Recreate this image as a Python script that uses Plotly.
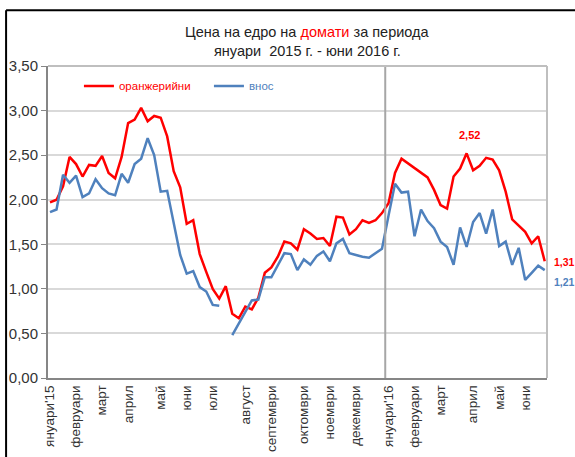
import plotly.graph_objects as go

# Weekly wholesale prices (лв/кг), January 2015 – June 2016
greenhouse = [1.97, 2.00, 2.15, 2.48, 2.40, 2.26, 2.39, 2.38, 2.49, 2.30, 2.24, 2.48, 2.86, 2.90, 3.03,
              2.88, 2.94, 2.92, 2.71, 2.32, 2.14, 1.73, 1.77, 1.39, 1.19, 1.00, 0.89, 1.03, 0.72, 0.67,
              0.80, 0.77, 0.90, 1.18, 1.24, 1.36, 1.53, 1.51, 1.44, 1.67, 1.62, 1.56, 1.57, 1.48, 1.81,
              1.80, 1.61, 1.67, 1.77, 1.74, 1.77, 1.85, 1.96, 2.30, 2.46, 2.41, 2.35, 2.31, 2.25, 2.11,
              1.94, 1.90, 2.26, 2.35, 2.52, 2.33, 2.38, 2.47, 2.45, 2.33, 2.09, 1.78, 1.71, 1.64, 1.51,
              1.59, 1.31]
imported = [1.86, 1.89, 2.28, 2.19, 2.27, 2.03, 2.07, 2.23, 2.13, 2.07, 2.05, 2.29, 2.19, 2.40, 2.46,
            2.69, 2.50, 2.09, 2.10, 1.75, 1.38, 1.17, 1.20, 1.02, 0.97, 0.82, 0.81, None, 0.48, 0.61,
            0.75, 0.87, 0.88, 1.13, 1.13, 1.27, 1.40, 1.39, 1.21, 1.33, 1.27, 1.37, 1.42, 1.31, 1.51,
            1.56, 1.40, 1.38, 1.36, 1.35, 1.40, 1.45, 1.82, 2.18, 2.08, 2.09, 1.59, 1.89, 1.76, 1.68,
            1.53, 1.47, 1.27, 1.69, 1.47, 1.75, 1.85, 1.62, 1.89, 1.48, 1.53, 1.27, 1.46, 1.10, 1.18,
            1.26, 1.21]
weeks = list(range(len(greenhouse)))

tick_weeks = [0, 4, 8, 12, 17, 21, 25, 30, 34, 39, 43, 47, 52, 56, 60, 65, 69, 73]
tick_labels = ["януари'15", "февруари", "март", "април", "май", "юни", "юли", "август",
               "септември", "октомври", "ноември", "декември", "януари'16", "февруари",
               "март", "април", "май", "юни"]
y_ticks = [0, 0.5, 1.0, 1.5, 2.0, 2.5, 3.0, 3.5]

RED = "#ff0000"
BLUE = "#4f81bd"
FONT = "Liberation Sans, Arial, sans-serif"

def fmt(v):
    return f"{v:.2f}".replace(".", ",")

fig = go.Figure()
fig.add_trace(go.Scatter(x=weeks, y=greenhouse, mode="lines",
                         name=f'<span style="color:{RED}">оранжерийни</span>',
                         line=dict(color=RED, width=2.5)))
fig.add_trace(go.Scatter(x=weeks, y=imported, mode="lines", connectgaps=False,
                         name=f'<span style="color:{BLUE}">внос</span>',
                         line=dict(color=BLUE, width=2.5)))

peak_i = 64
last_i = len(greenhouse) - 1
annotations = [
    # title, two lines
    dict(x=0.521, y=1.1104, xref="paper", yref="paper", showarrow=False, xanchor="center",
         yanchor="middle",
         text=f'Цена на едро на <span style="color:{RED}">домати</span> за периода',
         font=dict(size=14.5, color="#222222", family=FONT)),
    dict(x=0.521, y=1.0496, xref="paper", yref="paper", showarrow=False, xanchor="center",
         yanchor="middle", text="януари  2015 г. - юни 2016 г.",
         font=dict(size=14.5, color="#222222", family=FONT)),
    # data labels
    dict(x=peak_i, y=greenhouse[peak_i], text=f"<b>{fmt(greenhouse[peak_i])}</b>", showarrow=False,
         xref="x", yref="y", yshift=18, xshift=3, font=dict(color=RED, size=11, family=FONT)),
    dict(x=last_i, y=greenhouse[last_i], text=f"<b>{fmt(greenhouse[last_i])}</b>", showarrow=False,
         xref="x", yref="y", xanchor="left", xshift=7, yshift=-1,
         font=dict(color=RED, size=10.5, family=FONT)),
    dict(x=last_i, y=imported[last_i], text=f"<b>{fmt(imported[last_i])}</b>", showarrow=False,
         xref="x", yref="y", xanchor="left", xshift=7, yshift=-12,
         font=dict(color=BLUE, size=10.5, family=FONT)),
]

year_break = tick_weeks[tick_labels.index("януари'16")] - 0.5

shapes = [
    # year divider
    dict(type="line", xref="x", yref="paper", x0=year_break, x1=year_break, y0=0, y1=1,
         line=dict(color="#a6a6a6", width=2), layer="above"),
    # plot frame top/right
    dict(type="line", xref="paper", yref="paper", x0=0, x1=1, y0=1, y1=1,
         line=dict(color="#bfbfbf", width=2)),
    dict(type="line", xref="paper", yref="paper", x0=1, x1=1, y0=0, y1=1,
         line=dict(color="#bfbfbf", width=2)),
    # outer chart border (top and left)
    dict(type="line", xref="paper", yref="paper", x0=-0.084, x1=1.06, y0=1.179, y1=1.179,
         line=dict(color="#000000", width=2)),
    dict(type="line", xref="paper", yref="paper", x0=-0.084, x1=-0.084, y0=1.179, y1=-0.26,
         line=dict(color="#000000", width=2)),
]

fig.update_layout(
    width=575, height=457,
    margin=dict(l=48, r=28, t=66, b=78.5),
    paper_bgcolor="white", plot_bgcolor="white",
    separators=",.",
    font=dict(family=FONT, color="#333333"),
    showlegend=True,
    legend=dict(orientation="h", x=0.062, xanchor="left", y=0.936, yanchor="middle",
                bgcolor="rgba(0,0,0,0)", font=dict(size=11.5, family=FONT),
                entrywidth=85, entrywidthmode="pixels"),
    xaxis=dict(range=[-0.31, 76.35], tickmode="array", tickvals=tick_weeks, ticktext=tick_labels,
               tickangle=-90, showgrid=False, zeroline=False, showline=True,
               linecolor="#868686", linewidth=2, ticks="", automargin=False,
               tickfont=dict(size=13.5, color="#333333", family=FONT)),
    yaxis=dict(range=[0, 3.5], tickmode="array", tickvals=y_ticks, tickformat=".2f",
               showgrid=True, gridcolor="#d9d9d9", gridwidth=1.5, zeroline=False,
               showline=True, linecolor="#868686", linewidth=2, automargin=False,
               ticks="outside", ticklen=5, tickcolor="#868686",
               tickfont=dict(size=15, color="#333333", family=FONT)),
    annotations=annotations,
    shapes=shapes,
)

fig.write_html("out.html", config={"displayModeBar": False},
               post_script="document.body.style.margin='0';document.body.style.padding='0';")
